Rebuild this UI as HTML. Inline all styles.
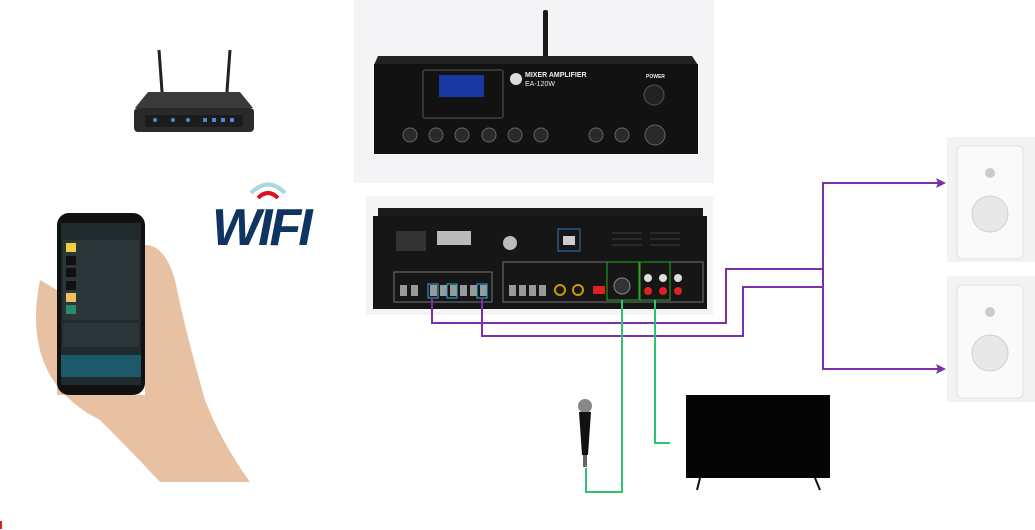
<!DOCTYPE html>
<html><head><meta charset="utf-8"><style>
html,body{margin:0;padding:0;background:#fff;width:1035px;height:530px;overflow:hidden}
svg{display:block}
</style></head><body>
<svg width="1035" height="530" viewBox="0 0 1035 530" xmlns="http://www.w3.org/2000/svg" font-family="Liberation Sans, sans-serif">
<!-- router -->
<line x1="159" y1="50" x2="163" y2="105" stroke="#222" stroke-width="3"/>
<line x1="230" y1="50" x2="226" y2="105" stroke="#222" stroke-width="3"/>
<path d="M148 92 L240 92 L253 108 L135 108 Z" fill="#3a3a3a"/>
<rect x="134" y="108" width="120" height="24" rx="4" fill="#2a2a2a"/>
<rect x="145" y="115" width="98" height="12" rx="2" fill="#1c1c1c"/>
<g fill="#4a8ad0"><circle cx="155" cy="120" r="2"/><circle cx="173" cy="120" r="2"/><circle cx="188" cy="120" r="2"/><rect x="203" y="118" width="4" height="4"/><rect x="212" y="118" width="4" height="4"/><rect x="221" y="118" width="4" height="4"/><rect x="230" y="118" width="4" height="4"/></g>
<!-- wifi logo -->
<path d="M251 193 Q268 176 285 193" stroke="#a8d8e0" stroke-width="4" fill="none"/>
<path d="M258 198 Q268 188 278 198" stroke="#e01020" stroke-width="4" fill="none"/>
<text x="212" y="245" font-size="52" font-weight="bold" font-style="italic" fill="#0f3460" letter-spacing="-3">WIFI</text>
<!-- hand -->
<path d="M40 280 Q30 330 45 365 Q60 400 100 420 Q130 450 160 482 L250 482 Q220 440 205 400 Q185 330 175 280 Q165 245 145 245 L145 395 L57 395 L57 290 Z" fill="#e8c1a3"/>
<path d="M57 300 L57 395 L70 395 Z" fill="#e8c1a3"/>
<!-- phone -->
<rect x="57" y="213" width="88" height="182" rx="12" fill="#111"/>
<rect x="61" y="223" width="80" height="162" fill="#1e2a2c"/>
<g fill="#2a3638"><rect x="63" y="240" width="76" height="80"/><rect x="63" y="323" width="76" height="24"/></g>
<g><rect x="66" y="243" width="10" height="9" fill="#f0d040"/><rect x="66" y="256" width="10" height="9" fill="#111"/><rect x="66" y="268" width="10" height="9" fill="#111"/><rect x="66" y="281" width="10" height="9" fill="#111"/><rect x="66" y="293" width="10" height="9" fill="#f0c060"/><rect x="66" y="305" width="10" height="9" fill="#2a8a6a"/></g>
<rect x="61" y="355" width="80" height="22" fill="#1c5a6a"/>
<!-- front amp -->
<rect x="354" y="0" width="360" height="183" fill="#f4f4f6"/>
<rect x="543" y="10" width="5" height="48" rx="2" fill="#1a1a1a"/>
<path d="M378 56 L692 56 L698 65 L374 65 Z" fill="#222"/>
<rect x="374" y="64" width="324" height="90" fill="#121212"/>
<rect x="423" y="70" width="80" height="48" rx="2" fill="none" stroke="#555"/>
<rect x="439" y="75" width="45" height="22" fill="#1838a0"/>
<circle cx="516" cy="79" r="6" fill="#ddd"/>
<text x="525" y="77" font-size="7" font-weight="bold" fill="#eee">MIXER AMPLIFIER</text>
<text x="525" y="86" font-size="7" fill="#eee">EA-120W</text>
<text x="646" y="78" font-size="5" font-weight="bold" fill="#eee">POWER</text>
<circle cx="654" cy="95" r="10" fill="#222" stroke="#555"/>
<g fill="#2a2a2a" stroke="#666" stroke-width="1"><circle cx="410" cy="135" r="7"/><circle cx="436" cy="135" r="7"/><circle cx="462" cy="135" r="7"/><circle cx="489" cy="135" r="7"/><circle cx="515" cy="135" r="7"/><circle cx="541" cy="135" r="7"/><circle cx="596" cy="135" r="7"/><circle cx="622" cy="135" r="7"/><circle cx="655" cy="135" r="10"/></g>
<!-- rear amp -->
<rect x="366" y="196" width="347" height="119" fill="#f4f4f6"/>
<rect x="378" y="208" width="325" height="10" fill="#1a1a1a"/>
<rect x="373" y="216" width="334" height="93" fill="#161616"/>
<rect x="396" y="231" width="30" height="20" fill="#333"/>
<rect x="437" y="231" width="34" height="14" fill="#bbb"/>
<circle cx="510" cy="243" r="7" fill="#bbb"/>
<rect x="558" y="229" width="22" height="22" fill="none" stroke="#2a7ac0"/>
<rect x="563" y="236" width="12" height="9" fill="#ccc"/>
<g fill="#2a2a2a"><rect x="612" y="232" width="30" height="2"/><rect x="612" y="238" width="30" height="2"/><rect x="612" y="244" width="30" height="2"/><rect x="650" y="232" width="30" height="2"/><rect x="650" y="238" width="30" height="2"/><rect x="650" y="244" width="30" height="2"/></g>
<rect x="394" y="272" width="98" height="30" fill="none" stroke="#777"/>
<rect x="503" y="262" width="200" height="40" fill="none" stroke="#777"/>
<g fill="#999"><rect x="400" y="285" width="7" height="11"/><rect x="411" y="285" width="7" height="11"/><rect x="430" y="285" width="7" height="11"/><rect x="440" y="285" width="7" height="11"/><rect x="450" y="285" width="7" height="11"/><rect x="460" y="285" width="7" height="11"/><rect x="470" y="285" width="7" height="11"/><rect x="480" y="285" width="7" height="11"/><rect x="509" y="285" width="7" height="11"/><rect x="519" y="285" width="7" height="11"/><rect x="529" y="285" width="7" height="11"/><rect x="539" y="285" width="7" height="11"/></g>
<g fill="none" stroke="#2ab0e0"><rect x="428" y="284" width="10" height="14"/><rect x="447" y="284" width="10" height="14"/><rect x="477" y="284" width="10" height="14"/></g>
<circle cx="560" cy="290" r="5" fill="none" stroke="#c90" stroke-width="2"/>
<circle cx="578" cy="290" r="5" fill="none" stroke="#c90" stroke-width="2"/>
<rect x="593" y="286" width="12" height="8" fill="#d22"/>
<rect x="607" y="262" width="32" height="38" fill="none" stroke="#2a2"/>
<circle cx="622" cy="286" r="8" fill="#333" stroke="#888"/>
<rect x="640" y="262" width="30" height="38" fill="none" stroke="#2a2"/>
<g><circle cx="648" cy="278" r="4" fill="#ddd"/><circle cx="663" cy="278" r="4" fill="#ddd"/><circle cx="678" cy="278" r="4" fill="#ddd"/><circle cx="648" cy="291" r="4" fill="#d22"/><circle cx="663" cy="291" r="4" fill="#d22"/><circle cx="678" cy="291" r="4" fill="#d22"/></g>
<!-- purple connectors -->
<g stroke="#7a30a8" stroke-width="2" fill="none">
<polyline points="432,298 432,323 726,323 726,269 823,269"/>
<polyline points="482,298 482,336 743,336 743,287 823,287"/>
<polyline points="943,183 823,183 823,369 943,369"/>
</g>
<g fill="#7a30a8"><path d="M946 183 L936 178 L938 183 L936 188 Z"/><path d="M946 369 L936 364 L938 369 L936 374 Z"/></g>
<!-- green connectors -->
<g stroke="#30c070" stroke-width="2" fill="none">
<polyline points="622,300 622,492 586,492 586,468"/>
<polyline points="655,300 655,443 670,443"/>
</g>
<!-- mic -->
<circle cx="585" cy="406" r="7" fill="#888"/>
<path d="M579 412 L591 412 L588 455 L582 455 Z" fill="#111"/>
<rect x="583" y="455" width="4" height="12" fill="#666"/>
<!-- TV -->
<rect x="686" y="395" width="144" height="83" fill="#050505"/>
<path d="M700 478 L697 490 M815 478 L820 490" stroke="#111" stroke-width="2"/>
<!-- speakers -->
<rect x="947" y="137" width="88" height="125" fill="#f3f3f3"/>
<rect x="957" y="146" width="66" height="113" rx="5" fill="#fafafa" stroke="#e0e0e0"/>
<circle cx="990" cy="173" r="5" fill="#ccc"/>
<circle cx="990" cy="214" r="18" fill="#e8e8e8" stroke="#d0d0d0"/>
<rect x="947" y="276" width="88" height="126" fill="#f3f3f3"/>
<rect x="957" y="285" width="66" height="113" rx="5" fill="#fafafa" stroke="#e0e0e0"/>
<circle cx="990" cy="312" r="5" fill="#ccc"/>
<circle cx="990" cy="353" r="18" fill="#e8e8e8" stroke="#d0d0d0"/>
<rect x="0" y="521" width="2" height="8" fill="#d22"/>
</svg>
</body></html>
